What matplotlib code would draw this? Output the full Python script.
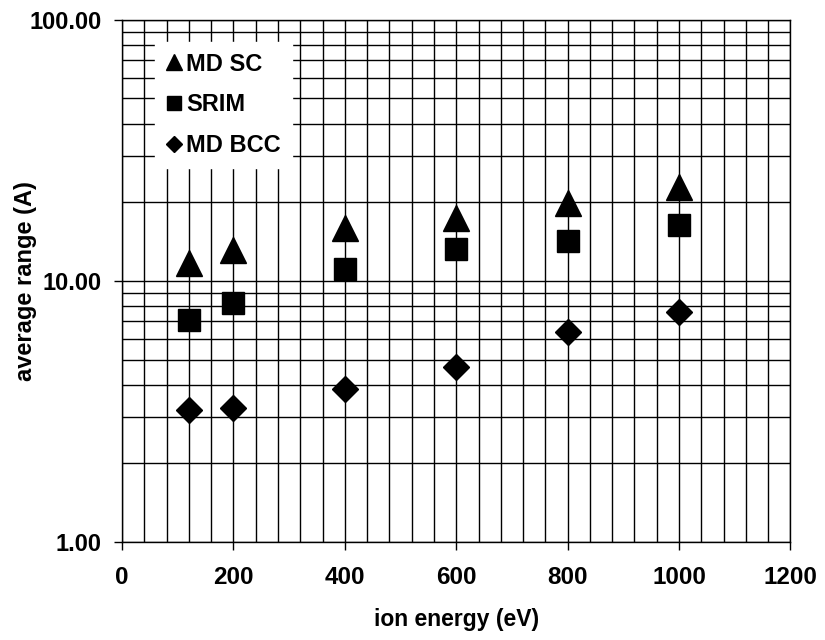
import matplotlib.pyplot as plt
from matplotlib.ticker import MultipleLocator, LogLocator, FixedLocator, NullFormatter

plt.rcParams['font.family'] = ['Liberation Sans', 'DejaVu Sans']
plt.rcParams['font.weight'] = 'bold'

energy = [120, 200, 400, 600, 800, 1000]
md_sc = [11.7, 13.1, 16.0, 17.4, 19.9, 22.9]
srim = [7.1, 8.2, 11.1, 13.3, 14.2, 16.4]
md_bcc = [3.2, 3.26, 3.86, 4.68, 6.4, 7.6]

x_ticks = [0, 200, 400, 600, 800, 1000, 1200]
y_ticks = [1, 10, 100]
y_tick_labels = ["1.00", "10.00", "100.00"]

fig = plt.figure(figsize=(8.25, 6.4), dpi=100)
ax = fig.add_axes([0.148, 0.153, 0.81, 0.816])

ax.plot(energy, md_sc, linestyle="none", marker="^", ms=19, color="black", label="MD SC", zorder=3)
ax.plot(energy, srim, linestyle="none", marker="s", ms=16, color="black", label="SRIM", zorder=3)
ax.plot(energy, md_bcc, linestyle="none", marker="D", ms=13.5, color="black", label="MD BCC", zorder=3)

ax.set_yscale("log")
ax.set_xlim(0, 1200)
ax.set_ylim(1, 100)

ax.xaxis.set_major_locator(FixedLocator(x_ticks))
ax.xaxis.set_minor_locator(MultipleLocator(40))
ax.set_xticklabels([str(t) for t in x_ticks])
ax.yaxis.set_major_locator(FixedLocator(y_ticks))
ax.set_yticklabels(y_tick_labels)
ax.yaxis.set_minor_locator(LogLocator(base=10, subs=range(2, 10)))
ax.yaxis.set_minor_formatter(NullFormatter())

ax.grid(True, which="both", color="black", linewidth=1.0)
ax.set_axisbelow(True)
ax.tick_params(axis="x", which="major", labelsize=17.5, length=6, width=1, direction="out", pad=11)
ax.tick_params(axis="y", which="major", labelsize=17, length=6, width=1, direction="out", pad=9)
ax.tick_params(axis="both", which="minor", length=0)
for lab in ax.get_xticklabels() + ax.get_yticklabels():
    lab.set_fontweight("bold")
for s in ax.spines.values():
    s.set_color("black")
    s.set_linewidth(1.0)

ax.set_xlabel("ion energy (eV)", fontsize=16.5, fontweight="bold", labelpad=14)
ax.set_ylabel("average range (A)", fontsize=17, fontweight="bold")
ax.yaxis.set_label_coords(-0.127, 0.5)

leg = ax.legend(loc="upper left", bbox_to_anchor=(0.031, 0.98), frameon=True, fancybox=False,
                markerscale=0.6, handlelength=0.7, handletextpad=0.2, labelspacing=0.75,
                prop={"size": 17, "weight": "bold"}, borderpad=0.45)
leg.get_frame().set_facecolor("white")
leg.get_frame().set_edgecolor("white")
leg.get_frame().set_alpha(1.0)

fig.savefig("out.png", dpi=100)
